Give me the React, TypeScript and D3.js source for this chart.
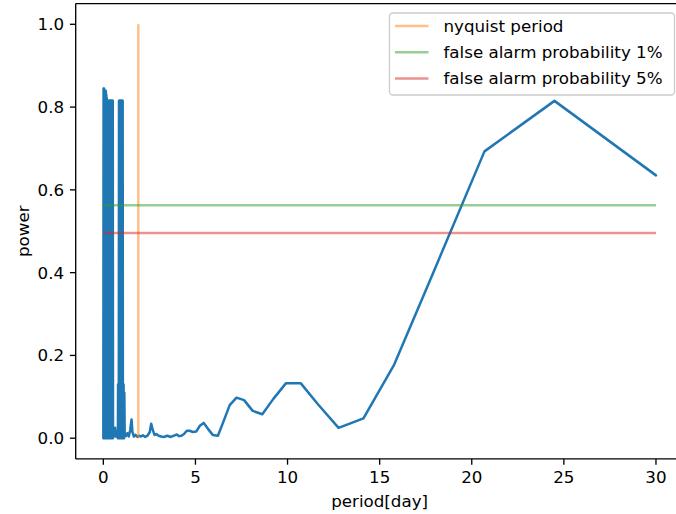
import React from "react";
import * as d3 from "d3";

// Lomb-Scargle style periodogram: power against period (days)
const period: number[] = [
  // short-period aliasing band
  0.0, 0.0125, 0.025, 0.0375, 0.05, 0.0625, 0.075, 0.0875, 0.1, 0.1125,
  0.125, 0.1375, 0.15, 0.1625, 0.175, 0.1875, 0.2, 0.2125, 0.225, 0.2375,
  0.25, 0.2625, 0.275, 0.2875, 0.3, 0.3125, 0.325, 0.3375, 0.35, 0.3625,
  0.375, 0.3875, 0.4, 0.4125, 0.425, 0.4375, 0.45, 0.4625, 0.475, 0.4875,
  0.5, 0.5125, 0.525,
  0.56, 0.6, 0.64, 0.68, 0.72, 0.76, 0.79,
  // one-day alias band
  0.8, 0.8125, 0.825, 0.8375, 0.85, 0.8625, 0.875, 0.8875, 0.9, 0.9125,
  0.925, 0.9375, 0.95, 0.9625, 0.975, 0.9875, 1.0, 1.0125, 1.025, 1.0375,
  1.05, 1.0625, 1.075, 1.0875, 1.1, 1.12, 1.14, 1.16,
  1.22, 1.3, 1.38, 1.46, 1.53, 1.58, 1.66, 1.75, 1.85, 1.95, 2.05, 2.15,
  2.27, 2.4, 2.52, 2.6, 2.68, 2.78, 2.88, 3.0, 3.14, 3.3, 3.47, 3.66, 3.87,
  3.99, 4.11, 4.24, 4.38, 4.53, 4.69, 4.86, 5.04, 5.24, 5.45, 5.69, 5.94,
  6.22, 6.52, 6.86, 7.23, 7.64, 8.11, 8.63, 9.23, 9.92, 10.71, 11.65, 12.77,
  14.12, 15.79, 17.91, 20.69, 24.49, 30.0,
];
const power: number[] = [
  0.0, 0.845, 0.0, 0.845, 0.0, 0.84, 0.0, 0.84, 0.0, 0.84,
  0.0, 0.838, 0.0, 0.83, 0.0, 0.822, 0.0, 0.816, 0.0, 0.815,
  0.0, 0.815, 0.0, 0.815, 0.0, 0.815, 0.0, 0.815, 0.0, 0.815,
  0.0, 0.815, 0.0, 0.815, 0.0, 0.815, 0.0, 0.815, 0.0, 0.815,
  0.0, 0.815, 0.0,
  0.02, 0.005, 0.025, 0.004, 0.015, 0.003, 0.0,
  0.13, 0.0, 0.13, 0.0, 0.815, 0.0, 0.815, 0.0, 0.815, 0.0,
  0.815, 0.0, 0.815, 0.0, 0.815, 0.0, 0.815, 0.0, 0.815, 0.0,
  0.815, 0.0, 0.13, 0.0, 0.13, 0.0, 0.11, 0.01,
  0.005, 0.012, 0.004, 0.02, 0.045, 0.015, 0.004, 0.008, 0.003, 0.006, 0.004, 0.007,
  0.003, 0.006, 0.015, 0.035, 0.02, 0.008, 0.01, 0.006, 0.004, 0.003, 0.006, 0.003, 0.007,
  0.009, 0.005, 0.006, 0.01, 0.018, 0.018, 0.015, 0.016, 0.03, 0.037, 0.022, 0.008,
  0.006, 0.04, 0.08, 0.098, 0.092, 0.066, 0.058, 0.095, 0.133, 0.133, 0.082, 0.025,
  0.048, 0.178, 0.4, 0.693, 0.815, 0.635,
];

const nyquistPeriod = 1.9;
const fap1 = 0.563;
const fap5 = 0.496;
const hlineStart = 0;
const hlineEnd = 30;

const xTicks: number[] = [0, 5, 10, 15, 20, 25, 30];
const yTicks: number[] = [0.0, 0.2, 0.4, 0.6, 0.8, 1.0];

const legendLabels: string[] = [
  "nyquist period",
  "false alarm probability 1%",
  "false alarm probability 5%",
];

const W = 676;
const H = 514;
const plot = { left: 75.7, right: 683.6, top: 3.6, bottom: 458.9 };
const FONT = "DejaVu Sans, sans-serif";
const FS = 16.7;

const BLUE = "#1f77b4";
const ORANGE = "#ff7f0e";
const GREEN = "#2ca02c";
const RED = "#d62728";

export default function App() {
  const x = d3.scaleLinear().domain([-1.5, 31.5]).range([plot.left, plot.right]);
  const y = d3.scaleLinear().domain([-0.05, 1.05]).range([plot.bottom, plot.top]);

  const pts: [number, number][] = period.map((p, i) => [p, power[i]]);
  const line = d3
    .line<[number, number]>()
    .x((d) => x(d[0]))
    .y((d) => y(d[1]));

  const tickLen = 5.8;
  const legendColors = [ORANGE, GREEN, RED];
  const leg = { x: 389.5, y: 13, w: 285, h: 82 };

  return (
    <div style={{ position: "absolute", left: 0, top: 0 }}>
      <svg width={W} height={H} style={{ display: "block" }} fontFamily={FONT}>
        <rect x={0} y={0} width={W} height={H} fill="#ffffff" />
        <defs>
          <clipPath id="plotArea">
            <rect
              x={plot.left}
              y={plot.top}
              width={plot.right - plot.left}
              height={plot.bottom - plot.top}
            />
          </clipPath>
        </defs>

        <g clipPath="url(#plotArea)">
          <path
            d={line(pts) ?? ""}
            fill="none"
            stroke={BLUE}
            strokeWidth={2.5}
            strokeLinejoin="round"
            strokeLinecap="round"
          />
          <line
            x1={x(nyquistPeriod)}
            x2={x(nyquistPeriod)}
            y1={y(0)}
            y2={y(1)}
            stroke={ORANGE}
            strokeOpacity={0.5}
            strokeWidth={2.5}
          />
          <line
            x1={x(hlineStart)}
            x2={x(hlineEnd)}
            y1={y(fap1)}
            y2={y(fap1)}
            stroke={GREEN}
            strokeOpacity={0.5}
            strokeWidth={2.5}
          />
          <line
            x1={x(hlineStart)}
            x2={x(hlineEnd)}
            y1={y(fap5)}
            y2={y(fap5)}
            stroke={RED}
            strokeOpacity={0.5}
            strokeWidth={2.5}
          />
        </g>

        {/* spines */}
        <g stroke="#000" strokeWidth={1.33} fill="none">
          <line x1={plot.left} x2={plot.left} y1={plot.top} y2={plot.bottom} />
          <line x1={plot.left} x2={W + 10} y1={plot.bottom} y2={plot.bottom} />
          <line x1={plot.left} x2={W + 10} y1={plot.top} y2={plot.top} />
        </g>

        {/* x axis */}
        {xTicks.map((t) => (
          <g key={"x" + t}>
            <line
              x1={x(t)}
              x2={x(t)}
              y1={plot.bottom}
              y2={plot.bottom + tickLen}
              stroke="#000"
              strokeWidth={1.33}
            />
            <text
              x={x(t)}
              y={plot.bottom + tickLen + 5.8 + FS * 0.76}
              textAnchor="middle"
              fontSize={FS}
              fill="#000"
            >
              {t}
            </text>
          </g>
        ))}
        <text
          x={(plot.left + plot.right) / 2}
          y={plot.bottom + tickLen + 5.8 + FS + 6.7 + FS * 0.76}
          textAnchor="middle"
          fontSize={FS}
          fill="#000"
        >
          period[day]
        </text>

        {/* y axis */}
        {yTicks.map((t) => (
          <g key={"y" + t}>
            <line
              x1={plot.left - tickLen}
              x2={plot.left}
              y1={y(t)}
              y2={y(t)}
              stroke="#000"
              strokeWidth={1.33}
            />
            <text
              x={plot.left - tickLen - 5.8}
              y={y(t)}
              dy="0.36em"
              textAnchor="end"
              fontSize={FS}
              fill="#000"
            >
              {t.toFixed(1)}
            </text>
          </g>
        ))}
        <text
          transform={`translate(${22.5},${(plot.top + plot.bottom) / 2}) rotate(-90)`}
          textAnchor="middle"
          dy="0.36em"
          fontSize={FS}
          fill="#000"
        >
          power
        </text>

        {/* legend */}
        <rect
          x={leg.x}
          y={leg.y}
          width={leg.w}
          height={leg.h}
          rx={3.5}
          fill="#ffffff"
          fillOpacity={0.8}
          stroke="#cccccc"
          strokeWidth={1.33}
        />
        {legendLabels.map((lab, i) => {
          const cy = 26 + i * 26.2;
          return (
            <g key={lab}>
              <line
                x1={395}
                x2={428.5}
                y1={cy}
                y2={cy}
                stroke={legendColors[i]}
                strokeOpacity={0.5}
                strokeWidth={2.5}
              />
              <text x={443.5} y={cy} dy="0.36em" fontSize={FS} fill="#000">
                {lab}
              </text>
            </g>
          );
        })}
      </svg>
    </div>
  );
}
